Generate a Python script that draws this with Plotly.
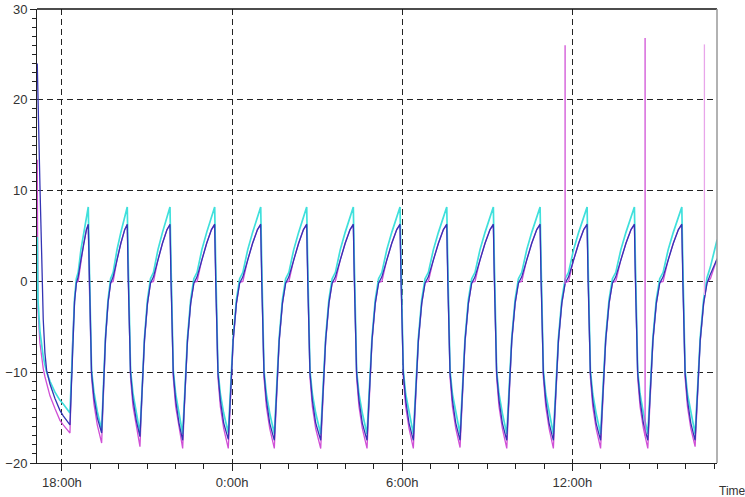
import plotly.graph_objects as go

# ---- time axis (hours; 24 = 0:00h next day) ----
t_hours = [
    17.129, 17.153, 17.224, 17.284, 17.340, 17.400, 17.460, 17.577, 17.753, 17.929, 18.046,
    18.282, 18.327, 18.379, 18.444, 18.508, 18.573, 18.670, 18.767, 18.863, 18.928, 18.963, 19.044, 19.128, 19.245,
    19.400, 19.463, 19.535, 19.626, 19.716, 19.806, 19.942, 20.077, 20.213, 20.303, 20.338, 20.419, 20.503, 20.620,
    20.751, 20.825, 20.910, 21.016, 21.122, 21.228, 21.386, 21.545, 21.704, 21.810, 21.845, 21.926, 22.010, 22.127,
    22.257, 22.336, 22.426, 22.539, 22.652, 22.765, 22.934, 23.104, 23.273, 23.386, 23.421, 23.502, 23.586, 23.703,
    23.866, 23.946, 24.037, 24.152, 24.266, 24.380, 24.552, 24.723, 24.895, 25.009, 25.044, 25.125, 25.209, 25.326,
    25.489, 25.569, 25.660, 25.775, 25.889, 26.003, 26.174, 26.346, 26.517, 26.631, 26.666, 26.747, 26.831, 26.948,
    27.125, 27.206, 27.298, 27.413, 27.528, 27.643, 27.815, 27.988, 28.160, 28.275, 28.310, 28.391, 28.475, 28.592,
    28.758, 28.839, 28.933, 29.049, 29.165, 29.282, 29.456, 29.631, 29.806, 29.922, 29.957, 30.038, 30.122, 30.239,
    30.392, 30.474, 30.569, 30.687, 30.804, 30.922, 31.099, 31.276, 31.452, 31.570, 31.605, 31.686, 31.770, 31.887,
    32.039, 32.121, 32.215, 32.333, 32.450, 32.567, 32.743, 32.920, 33.096, 33.213, 33.248, 33.329, 33.413, 33.530,
    33.686, 33.768, 33.862, 33.980, 34.097, 34.215, 34.391, 34.567, 34.744, 34.861, 34.896, 34.977, 35.061, 35.178,
    35.330, 35.413, 35.508, 35.627, 35.746, 35.865, 36.043, 36.222, 36.400, 36.519, 36.554, 36.635, 36.719, 36.836,
    36.995, 37.078, 37.174, 37.293, 37.412, 37.531, 37.710, 37.889, 38.068, 38.187, 38.222, 38.303, 38.387, 38.504,
    38.660, 38.744, 38.840, 38.960, 39.080, 39.200, 39.379, 39.559, 39.739, 39.859, 39.894, 39.975, 40.059, 40.176,
    40.328, 40.412, 40.508, 40.628, 40.748, 40.868, 41.048, 41.104,
]

cyan_vals = [
    4.9, -2.0, -5.5, -7.0, -8.3, -9.2, -10.0, -11.0, -12.2, -13.1, -13.5,
    -14.5, -11.0, -5.8, -1.9, 0.3, 1.0, 3.5, 5.4, 7.1, 8.2, 2.0, -9.8, -12.2, -14.3,
    -16.4, -11.8, -6.1, -2.0, 0.3, 1.0, 3.5, 5.4, 7.1, 8.2, 2.0, -9.8, -12.3, -14.4,
    -16.7, -12.0, -6.2, -2.0, 0.3, 1.0, 3.5, 5.4, 7.1, 8.2, 2.0, -9.8, -12.4, -14.5,
    -16.8, -12.0, -6.2, -2.0, 0.3, 1.0, 3.5, 5.4, 7.1, 8.2, 2.0, -9.8, -12.4, -14.5,
    -16.7, -12.0, -6.2, -2.0, 0.3, 1.0, 3.5, 5.4, 7.1, 8.2, 2.0, -9.8, -12.4, -14.5,
    -16.8, -12.0, -6.2, -2.0, 0.3, 1.0, 3.5, 5.4, 7.1, 8.2, 2.0, -9.8, -12.4, -14.5,
    -16.8, -12.0, -6.2, -2.0, 0.3, 1.0, 3.5, 5.4, 7.1, 8.2, 2.0, -9.8, -12.4, -14.5,
    -16.8, -12.0, -6.2, -2.0, 0.3, 1.0, 3.5, 5.4, 7.1, 8.2, 2.0, -9.8, -12.4, -14.5,
    -16.8, -12.0, -6.2, -2.0, 0.3, 1.0, 3.5, 5.4, 7.1, 8.2, 2.0, -9.8, -12.4, -14.5,
    -16.8, -12.0, -6.2, -2.0, 0.3, 1.0, 3.5, 5.4, 7.1, 8.2, 2.0, -9.8, -12.4, -14.5,
    -16.8, -12.0, -6.2, -2.0, 0.3, 1.0, 3.5, 5.4, 7.1, 8.2, 2.0, -9.8, -12.4, -14.5,
    -16.8, -12.0, -6.2, -2.0, 0.3, 1.0, 3.5, 5.4, 7.1, 8.2, 2.0, -9.8, -12.4, -14.5,
    -16.8, -12.0, -6.2, -2.0, 0.3, 1.0, 3.5, 5.4, 7.1, 8.2, 2.0, -9.8, -12.4, -14.5,
    -16.8, -12.0, -6.2, -2.0, 0.3, 1.0, 3.5, 5.4, 7.1, 8.2, 2.0, -9.8, -12.4, -14.5,
    -16.8, -12.0, -6.2, -2.0, 0.4, 1.6, 3.8, 4.6,
]

navy_vals = [
    24.0, 20.0, 10.5, 3.1, -4.2, -7.9, -9.8, -11.3, -12.9, -14.2, -14.8,
    -15.8, -11.6, -6.0, -2.2, -0.2, 0.5, 2.4, 4.2, 5.7, 6.3, 0.2, -10.1, -12.8, -15.0,
    -16.7, -12.0, -6.3, -2.3, -0.2, 0.5, 2.4, 4.2, 5.7, 6.3, 0.2, -10.1, -13.0, -15.3,
    -17.1, -12.2, -6.4, -2.4, -0.2, 0.5, 2.4, 4.2, 5.7, 6.3, 0.2, -10.1, -13.1, -15.6,
    -17.5, -12.3, -6.5, -2.4, -0.2, 0.5, 2.4, 4.2, 5.7, 6.3, 0.2, -10.1, -13.1, -15.6,
    -17.4, -12.3, -6.5, -2.4, -0.2, 0.5, 2.4, 4.2, 5.7, 6.3, 0.2, -10.1, -13.1, -15.6,
    -17.5, -12.3, -6.5, -2.4, -0.2, 0.5, 2.4, 4.2, 5.7, 6.3, 0.2, -10.1, -13.1, -15.6,
    -17.5, -12.3, -6.5, -2.4, -0.2, 0.5, 2.4, 4.2, 5.7, 6.3, 0.2, -10.1, -13.1, -15.6,
    -17.5, -12.3, -6.5, -2.4, -0.2, 0.5, 2.4, 4.2, 5.7, 6.3, 0.2, -10.1, -13.1, -15.6,
    -17.5, -12.3, -6.5, -2.4, -0.2, 0.5, 2.4, 4.2, 5.7, 6.3, 0.2, -10.1, -13.1, -15.6,
    -17.5, -12.3, -6.5, -2.4, -0.2, 0.5, 2.4, 4.2, 5.7, 6.3, 0.2, -10.1, -13.1, -15.6,
    -17.5, -12.3, -6.5, -2.4, -0.2, 0.5, 2.4, 4.2, 5.7, 6.3, 0.2, -10.1, -13.1, -15.6,
    -17.5, -12.3, -6.5, -2.4, -0.2, 0.5, 2.4, 4.2, 5.7, 6.3, 0.2, -10.1, -13.1, -15.6,
    -17.5, -12.3, -6.5, -2.4, -0.2, 0.5, 2.4, 4.2, 5.7, 6.3, 0.2, -10.1, -13.1, -15.6,
    -17.5, -12.3, -6.5, -2.4, -0.2, 0.5, 2.4, 4.2, 5.7, 6.3, 0.2, -10.1, -13.1, -15.6,
    -17.5, -12.3, -6.5, -2.4, -0.2, 0.8, 2.0, 2.5,
]

magenta_vals = [
    13.4, -3.0, -6.8, -8.3, -9.6, -10.5, -11.2, -12.6, -14.0, -15.3, -15.8,
    -16.7, -11.8, -6.2, -2.3, -0.1, 0.0, 2.4, 4.2, 5.7, 6.2, 0.0, -10.6, -13.5, -15.8,
    -17.8, -12.4, -6.5, -2.4, -0.1, 0.0, 2.4, 4.2, 5.7, 6.2, 0.0, -10.6, -13.7, -16.0,
    -18.2, -12.5, -6.6, -2.5, -0.1, 0.0, 2.4, 4.2, 5.7, 6.2, 0.0, -10.6, -13.8, -16.2,
    -18.4, -12.6, -6.7, -2.5, -0.1, 0.0, 2.4, 4.2, 5.7, 6.2, 0.0, -10.6, -13.8, -16.2,
    -18.4, -12.6, -6.7, -2.5, -0.1, 0.0, 2.4, 4.2, 5.7, 6.2, 0.0, -10.6, -13.8, -16.2,
    -18.4, -12.6, -6.7, -2.5, -0.1, 0.0, 2.4, 4.2, 5.7, 6.2, 0.0, -10.6, -13.8, -16.2,
    -18.4, -12.6, -6.7, -2.5, -0.1, 0.0, 2.4, 4.2, 5.7, 6.2, 0.0, -10.6, -13.8, -16.2,
    -18.4, -12.6, -6.7, -2.5, -0.1, 0.0, 2.4, 4.2, 5.7, 6.2, 0.0, -10.6, -13.8, -16.2,
    -18.4, -12.6, -6.7, -2.5, -0.1, 0.0, 2.4, 4.2, 5.7, 6.2, 0.0, -10.6, -13.8, -16.2,
    -18.3, -12.6, -6.7, -2.5, -0.1, 0.0, 2.4, 4.2, 5.7, 6.2, 0.0, -10.6, -13.8, -16.2,
    -18.4, -12.6, -6.7, -2.5, -0.1, 0.0, 2.4, 4.2, 5.7, 6.2, 0.0, -10.6, -13.8, -16.2,
    -18.4, -12.6, -6.7, -2.5, -0.1, 0.0, 2.4, 4.2, 5.7, 6.2, 0.0, -10.6, -13.8, -16.2,
    -18.4, -12.6, -6.7, -2.5, -0.1, 0.0, 2.4, 4.2, 5.7, 6.2, 0.0, -10.6, -13.8, -16.2,
    -18.4, -12.6, -6.7, -2.5, -0.1, 0.0, 2.4, 4.2, 5.7, 6.2, 0.0, -10.6, -13.8, -16.2,
    -18.2, -12.6, -6.7, -2.5, -0.1, 0.3, 2.0, 2.5,
]

# short spikes in the magenta channel
spike_times = [35.743, 38.564, 40.656]
spike_base = [-0.3, -17.0, -1.5]
spike_top = [26.0, 26.8, 26.1]

# axis ticks
x_tick_vals = [18, 24, 30, 36]
x_tick_text = ["18:00h", "0:00h", "6:00h", "12:00h"]
y_tick_vals = [-20, -10, 0, 10, 20, 30]

CYAN = "#3fe0dc"
NAVY = "#3434b4"
MAGENTA = "#d050d6"
PINK = "#e8a6ea"

fig = go.Figure()

fig.add_trace(go.Scatter(x=t_hours, y=magenta_vals, mode="lines",
                         line=dict(color=MAGENTA, width=1.3), hoverinfo="skip"))
fig.add_trace(go.Scatter(x=t_hours, y=cyan_vals, mode="lines",
                         line=dict(color=CYAN, width=1.7), hoverinfo="skip"))
fig.add_trace(go.Scatter(x=t_hours, y=navy_vals, mode="lines",
                         line=dict(color=NAVY, width=1.3), hoverinfo="skip"))

for i, (t, b, top) in enumerate(zip(spike_times, spike_base, spike_top)):
    fig.add_trace(go.Scatter(x=[t, t], y=[b, top], mode="lines",
                             line=dict(color=PINK if i == 2 else MAGENTA, width=1.3),
                             hoverinfo="skip"))

fig.update_layout(
    width=745, height=497,
    margin=dict(l=37, r=28, t=9, b=34, autoexpand=False),
    paper_bgcolor="white", plot_bgcolor="white",
    showlegend=False,
    font=dict(family="Liberation Sans, Arial, sans-serif", size=13, color="#333"),
)

fig.update_xaxes(
    automargin=False,
    range=[17.12, 41.10],
    tickvals=x_tick_vals, ticktext=x_tick_text,
    ticks="outside", ticklen=7, tickcolor="#222", tickwidth=1,
    showline=True, linecolor="#222", linewidth=1,
    showgrid=True, gridcolor="#222", griddash="6px,4px", gridwidth=1,
    zeroline=False,
    minor=dict(dtick=1, tick0=18, ticks="outside", ticklen=5, tickcolor="#222", showgrid=False),
    tickfont=dict(size=13, color="#333"),
)
fig.update_yaxes(
    automargin=False,
    range=[-20, 30],
    tickvals=y_tick_vals,
    ticks="outside", ticklen=6, tickcolor="#222", tickwidth=1,
    showline=True, linecolor="#222", linewidth=1,
    showgrid=True, gridcolor="#222", griddash="6px,4px", gridwidth=1,
    zeroline=False,
    minor=dict(dtick=1, tick0=0, ticks="outside", ticklen=4, tickcolor="#222", showgrid=False),
    tickfont=dict(size=13, color="#333"),
)

# frame: black top, grey right
fig.add_shape(type="line", xref="paper", yref="paper", x0=0, x1=1, y0=1, y1=1,
              line=dict(color="#111", width=1.5))
fig.add_shape(type="line", xref="paper", yref="paper", x0=1, x1=1, y0=0, y1=1,
              line=dict(color="#999", width=1.5))

fig.add_annotation(text="Time", xref="paper", yref="paper", x=1.046, y=-0.062,
                   xanchor="right", yanchor="middle", showarrow=False,
                   font=dict(size=12, color="#333"))

fig.write_html("out.html", config={"displayModeBar": False},
               post_script="document.body.style.margin='0';document.body.style.overflow='hidden';")
